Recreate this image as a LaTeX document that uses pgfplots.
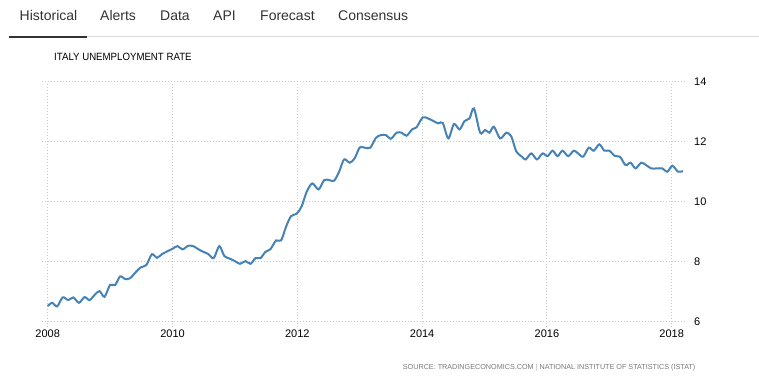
\documentclass[border=0pt]{standalone}
\usepackage{pgfplots}
\pgfplotsset{compat=1.18}
\usepackage{graphicx}
\usepackage{fontspec}
\setmainfont{Liberation Sans}
\definecolor{lineblue}{HTML}{4682B4}
\definecolor{gridgray}{HTML}{C8C8C8}
\definecolor{tabtext}{HTML}{333333}
\definecolor{srcgray}{HTML}{7A7A7A}
\pgfplotstableread{
x y
2008.00 6.52
2008.07 6.63
2008.15 6.51
2008.24 6.81
2008.33 6.72
2008.41 6.81
2008.50 6.63
2008.59 6.82
2008.67 6.72
2008.75 6.89
2008.83 7.02
2008.91 6.83
2009.00 7.23
2009.08 7.22
2009.16 7.51
2009.24 7.42
2009.32 7.45
2009.41 7.65
2009.49 7.81
2009.58 7.89
2009.67 8.25
2009.75 8.13
2009.83 8.25
2009.92 8.35
2010.00 8.43
2010.08 8.52
2010.16 8.41
2010.25 8.53
2010.33 8.52
2010.41 8.42
2010.49 8.33
2010.57 8.26
2010.66 8.12
2010.75 8.52
2010.83 8.19
2010.92 8.10
2011.00 8.02
2011.08 7.93
2011.17 8.02
2011.25 7.93
2011.33 8.12
2011.41 8.12
2011.49 8.33
2011.57 8.42
2011.66 8.71
2011.74 8.71
2011.82 9.17
2011.90 9.52
2011.99 9.60
2012.07 9.85
2012.15 10.33
2012.24 10.61
2012.34 10.41
2012.43 10.72
2012.51 10.72
2012.59 10.70
2012.67 11.00
2012.75 11.41
2012.84 11.30
2012.92 11.45
2013.00 11.81
2013.08 11.80
2013.17 11.80
2013.26 12.13
2013.34 12.22
2013.42 12.22
2013.50 12.10
2013.59 12.30
2013.67 12.30
2013.75 12.20
2013.84 12.41
2013.91 12.48
2014.01 12.81
2014.10 12.77
2014.18 12.69
2014.26 12.61
2014.33 12.63
2014.42 12.11
2014.51 12.59
2014.60 12.41
2014.68 12.69
2014.76 12.78
2014.83 13.11
2014.93 12.30
2015.01 12.39
2015.08 12.30
2015.15 12.50
2015.25 12.11
2015.35 12.30
2015.43 12.17
2015.51 11.67
2015.60 11.50
2015.66 11.41
2015.75 11.61
2015.84 11.41
2015.93 11.61
2016.01 11.52
2016.09 11.70
2016.17 11.52
2016.25 11.70
2016.34 11.52
2016.43 11.70
2016.50 11.61
2016.58 11.50
2016.67 11.80
2016.75 11.70
2016.84 11.91
2016.92 11.70
2017.00 11.70
2017.09 11.52
2017.17 11.50
2017.26 11.22
2017.34 11.30
2017.42 11.11
2017.51 11.30
2017.59 11.22
2017.67 11.11
2017.76 11.11
2017.85 11.11
2017.93 11.00
2018.01 11.20
2018.10 11.00
2018.18 11.02
}\unemp
\begin{document}
\begin{tikzpicture}
\useasboundingbox (0pt,0pt) rectangle (759pt,378pt);
\fill[white] (0pt,0pt) rectangle (759pt,378pt);
% tabs
\draw[color=gray!30, line width=1pt] (87pt,341pt) -- (759pt,341pt);
\draw[color=tabtext, line width=2pt] (9pt,341.3pt) -- (87pt,341.3pt);
\begin{scope}[every node/.style={anchor=base west, inner sep=0pt, text=tabtext, font=\fontsize{14}{16}\selectfont}]
\node at (19.5pt,357pt) {Historical};
\node at (100pt,357pt) {Alerts};
\node at (160pt,357pt) {Data};
\node at (213pt,357pt) {API};
\node at (260pt,357pt) {Forecast};
\node at (338pt,357pt) {Consensus};
\end{scope}
\node[anchor=base west, inner sep=0pt, text=black] at (54pt,317pt) {\scalebox{0.92}[1]{\fontsize{10.5}{12}\selectfont ITALY UNEMPLOYMENT RATE}};
\node[anchor=base west, inner sep=0pt, text=srcgray] at (402.7pt,8.7pt) {\fontsize{7.22}{8}\selectfont SOURCE: TRADINGECONOMICS.COM \textcolor{gray!60}{|} NATIONAL INSTITUTE OF STATISTICS (ISTAT)};
\begin{axis}[
  at={(41.8pt,56.3pt)}, anchor=south west,
  scale only axis, width=644.9pt, height=240pt,
  xmin=2007.905, xmax=2018.24, ymin=6, ymax=14,
  axis line style={draw=none},
  xtick={2008,2010,2012,2014,2016,2018},
  xticklabels={2008,2010,2012,2014,2016,2018},
  ytick={6,8,10,12,14},
  yticklabels={6,8,10,12,14},
  yticklabel pos=right,
  xtick pos=bottom,
  tick align=outside,
  major tick length=5pt,
  xtick style={draw=gridgray, line width=1pt, dash pattern=on 1pt off 2pt},
  ytick style={draw=none},
  grid=major,
  major grid style={draw=gridgray, line width=1pt, dash pattern=on 1pt off 2pt},
  ticklabel style={font=\fontsize{11}{12}\selectfont, text=black},
  yticklabel style={xshift=-1pt},
  clip=false,
]
\addplot[lineblue, line width=2pt, smooth, tension=0.5] table[x=x, y=y] {\unemp};
\end{axis}
\end{tikzpicture}
\end{document}
